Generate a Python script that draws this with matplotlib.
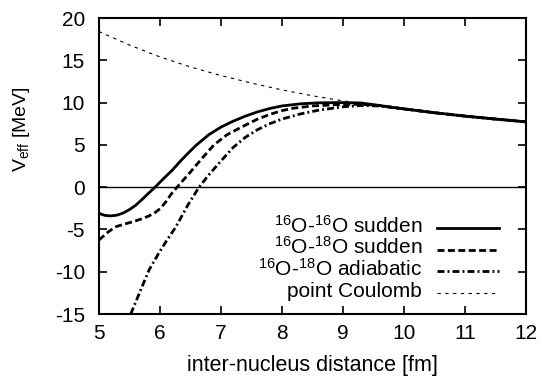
import matplotlib.pyplot as plt
from matplotlib.lines import Line2D

plt.rcParams['font.family'] = ['Liberation Sans', 'DejaVu Sans']
plt.rcParams['mathtext.fontset'] = 'custom'
plt.rcParams['mathtext.rm'] = 'Liberation Sans'
plt.rcParams['mathtext.it'] = 'Liberation Sans'
plt.rcParams['axes.unicode_minus'] = False

# values
r_16_16 = [5.0, 5.1, 5.2, 5.3, 5.4, 5.5, 5.6, 5.7, 5.8, 5.92, 6.05, 6.2, 6.35, 6.5,
           6.6, 6.8, 7.0, 7.2, 7.4, 7.6, 7.8, 8.0, 8.3, 8.6, 9.0, 9.3, 9.6, 10.0,
           10.5, 11.0, 11.5, 12.0]
v_16_16 = [-3.1, -3.35, -3.4, -3.3, -3.05, -2.65, -2.15, -1.5, -0.8, 0.0, 0.95, 2.0,
           3.2, 4.3, 5.0, 6.2, 7.1, 7.8, 8.4, 8.9, 9.3, 9.6, 9.85, 9.97, 10.0, 9.95,
           9.65, 9.25, 8.8, 8.4, 8.05, 7.72]

r_16_18 = [5.0, 5.15, 5.27, 5.4, 5.55, 5.7, 5.82, 5.92, 6.01, 6.1, 6.17, 6.28, 6.5,
           6.7, 6.885, 7.1, 7.35, 7.6, 7.8, 8.0, 8.2, 8.5, 8.9, 9.3, 9.6, 10.0, 10.5,
           11.0, 11.5, 12.0]
v_16_18 = [-6.25, -5.3, -4.7, -4.4, -4.1, -3.75, -3.4, -3.0, -2.5, -1.7, -0.95, 0.0,
           1.8, 3.5, 5.0, 6.2, 7.15, 8.05, 8.6, 9.05, 9.35, 9.6, 9.75, 9.8, 9.65,
           9.25, 8.8, 8.4, 8.05, 7.72]

r_adia = [5.52, 5.67, 5.82, 5.98, 6.12, 6.26, 6.45, 6.64, 6.8, 7.0, 7.2, 7.4, 7.6,
          7.8, 8.0, 8.3, 8.6, 9.0, 9.3, 9.6, 10.0, 10.5, 11.0, 11.5, 12.0]
v_adia = [-15.0, -12.4, -9.8, -7.8, -6.2, -4.7, -2.2, 0.0, 1.45, 3.1, 4.7, 5.9, 6.8,
          7.5, 8.05, 8.65, 9.1, 9.5, 9.65, 9.6, 9.25, 8.8, 8.4, 8.05, 7.72]

r_coul = [5.0, 5.5, 6.0, 6.5, 7.0, 7.5, 8.0, 8.5, 9.0, 9.5, 10.0, 10.5, 11.0, 11.5, 12.0]
v_coul = [18.4, 16.8, 15.4, 14.2, 13.2, 12.3, 11.5, 10.8, 10.2, 9.7, 9.2, 8.8, 8.4, 8.0, 7.7]

labels = [r'$^{16}$O-$^{16}$O sudden', r'$^{16}$O-$^{18}$O sudden',
          r'$^{16}$O-$^{18}$O adiabatic', 'point Coulomb']
xticks = [5, 6, 7, 8, 9, 10, 11, 12]
yticks = [-15, -10, -5, 0, 5, 10, 15, 20]

styles = [dict(lw=2.0, ls='-'),
          dict(lw=2.0, ls=(0, (2.5, 1.25))),
          dict(lw=2.0, ls=(0, (2.5, 1.1, 0.7, 1.1))),
          dict(lw=0.8, ls=(0, (3, 4)))]

fig = plt.figure(figsize=(5.43, 3.8), dpi=100)
ax = fig.add_axes([99 / 543, 66 / 380, 427 / 543, 296 / 380])

ax.axhline(0, color='black', lw=1.0)
for (r, v), st in zip([(r_16_16, v_16_16), (r_16_18, v_16_18),
                       (r_adia, v_adia), (r_coul, v_coul)], styles):
    ax.plot(r, v, color='black', **st)

ax.set_xlim(5, 12)
ax.set_ylim(-15, 20)
ax.set_xticks(xticks)
ax.set_yticks(yticks)
ax.tick_params(direction='in', top=True, right=True, length=6, width=1.2,
               labelsize=15)
ax.tick_params(axis='y', pad=10)
ax.tick_params(axis='x', pad=7)
for s in ax.spines.values():
    s.set_linewidth(1.5)

ax.set_xlabel('inter-nucleus distance [fm]', fontsize=15.5)
ax.xaxis.set_label_coords(0.5, -0.14)
ax.set_ylabel(r'V$_{\rm eff}$ [MeV]', fontsize=14)
ax.yaxis.set_label_coords(-0.157, 0.625)

# gnuplot-style key: right-aligned text, sample line to its right
row_y = [0.2905, 0.2172, 0.1438, 0.0709]
for lab, y, st in zip(labels, row_y, styles):
    ax.text(0.7564, y - 0.0145, lab, transform=ax.transAxes, ha='right',
            va='baseline', fontsize=15)
    ax.add_line(Line2D([0.7916, 0.9368], [y, y], transform=ax.transAxes,
                       color='black', **st))

fig.savefig('out.png', dpi=100)
